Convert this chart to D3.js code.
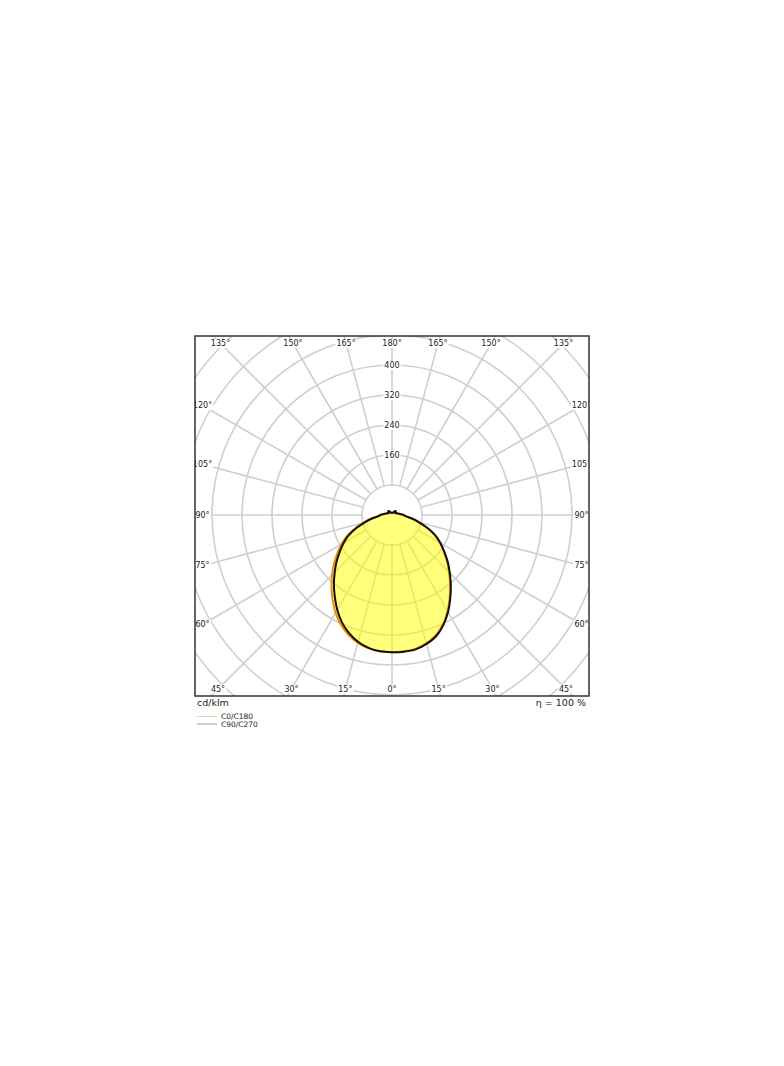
<!DOCTYPE html>
<html>
<head>
<meta charset="utf-8">
<script src="https://cdn.jsdelivr.net/npm/d3@7"></script>
<style>
  html, body { margin: 0; padding: 0; background: #fff; }
  svg { display: block; font-family: "DejaVu Sans", sans-serif; }
</style>
</head>
<body>
<svg id="chart" width="784" height="1066"></svg>
<script>
// ---- data (cd/klm), gamma 0..180 step 5 ----
const gammas = [0,5,10,15,20,25,30,35,40,45,50,55,60,65,70,75,80,85,90,95,100,105,110,115,120,125,130,135,140,145,150,155,160,165,170,175,180];
const tail = [25,19,16,13,11,10,11,12,14,14,12,9,7,6,6,6,6,6];
const c0   = [366,365,362,354,341,321,296,268,241,215,191,168,147,125,98,73,53,36,31].concat(tail);
const c180 = [366,365,361,353,340,323,301,276,251,226,202,178,156,133,105,79,57,38,31].concat(tail);
const c90  = [367,366,364,356,344,324,299,271,244,218,194,170,149,127,100,75,54,37,31].concat(tail);
const c270 = [366,365,360,350,335,316,292,266,241,216,193,170,149,127,100,75,54,37,31].concat(tail);
const ringValues = [80,160,240,320,400,480,560,640,720,800];
const ringLabels = [160,240,320,400];
const angleTicks = [0,15,30,45,60,75,90,105,120,135,150,165,180];
const legendNames = ["C0/C180","C90/C270"];
const efficiencyText = "η = 100 %";
const unitText = "cd/klm";

// ---- layout ----
const svg = d3.select("#chart");
const box = {x:195, y:336, w:394, h:360};
const cx = 392, cy = 515;
const r = d3.scaleLinear().domain([0,400]).range([0,150]);
const gridColor = "#cfcfcf";

svg.append("defs").append("clipPath").attr("id","boxclip")
  .append("rect").attr("x",box.x).attr("y",box.y).attr("width",box.w).attr("height",box.h);

const plot = svg.append("g").attr("clip-path","url(#boxclip)");
const grid = plot.append("g").attr("transform",`translate(${cx},${cy})`);

// rings
grid.selectAll("circle.ring").data(ringValues).enter().append("circle")
  .attr("r", d => r(d)).attr("fill","none").attr("stroke",gridColor).attr("stroke-width",1.6);

// radial lines (angle measured from downward direction)
const spokes = [];
angleTicks.forEach(a => { spokes.push({a, side: 1}); if (a>0 && a<180) spokes.push({a, side:-1}); });
grid.selectAll("line.spoke").data(spokes).enter().append("line")
  .attr("x1", d => d.side*r(80)*Math.sin(d.a*Math.PI/180))
  .attr("y1", d => r(80)*Math.cos(d.a*Math.PI/180))
  .attr("x2", d => d.side*r(1200)*Math.sin(d.a*Math.PI/180))
  .attr("y2", d => r(1200)*Math.cos(d.a*Math.PI/180))
  .attr("stroke",gridColor).attr("stroke-width",1.6);

// curves
const radial = (vals, right) => gammas.map((g,i) => [right ? Math.PI - g*Math.PI/180 : Math.PI + g*Math.PI/180, r(vals[i])]);
function closedCurve(left, rightV){
  const pts = radial(left,false).slice().reverse().concat(radial(rightV,true).slice(1, -1));
  return d3.lineRadial().angle(d=>d[0]).radius(d=>d[1]).curve(d3.curveCatmullRomClosed.alpha(0.5))(pts);
}
const curves = plot.append("g").attr("transform",`translate(${cx},${cy})`);
const pathA = closedCurve(c180, c0);
const pathB = closedCurve(c270, c90);
curves.append("path").attr("d",pathA).attr("fill","#ffff00").attr("fill-opacity",0.3).attr("stroke","none");
curves.append("path").attr("d",pathB).attr("fill","#ffff00").attr("fill-opacity",0.3).attr("stroke","none");
curves.append("path").attr("d",pathA).attr("fill","none").attr("stroke","#f0900a").attr("stroke-width",2);
curves.append("path").attr("d",pathB).attr("fill","none").attr("stroke","#111").attr("stroke-width",2);

// label helper with white background
function label(g, x, y, txt){
  const t = g.append("text").attr("x",x).attr("y",y).attr("text-anchor","middle")
    .attr("dominant-baseline","central").attr("font-size",8).attr("fill","#222").text(txt);
  const bb = t.node().getBBox();
  g.insert("rect", "text").attr("x",bb.x-1).attr("y",bb.y).attr("width",bb.width+2).attr("height",bb.height).attr("fill","#fff");
}

// radial value labels on the 180° line
const vLab = plot.append("g");
ringLabels.forEach(v => {
  const g = vLab.append("g");
  label(g, cx, cy - r(v) + 0.5, String(v));
});

// angle labels at box edges
const insetX = 189.5, insetTop = 171.5, insetBottom = 174;
const aLab = plot.append("g");
spokes.forEach(d => {
  const a = d.a*Math.PI/180;
  const sx = d.side*Math.sin(a), sy = Math.cos(a);
  const iy = sy > 0 ? insetBottom : insetTop;
  const t = Math.min(Math.abs(sx) > 1e-6 ? insetX/Math.abs(sx) : 1e9, Math.abs(sy) > 1e-6 ? iy/Math.abs(sy) : 1e9);
  const g = aLab.append("g");
  label(g, cx + t*sx, cy + t*sy, d.a + "°");
});

// frame
svg.append("rect").attr("x",box.x).attr("y",box.y).attr("width",box.w).attr("height",box.h)
  .attr("fill","none").attr("stroke","#333").attr("stroke-width",1.5);

// bottom texts
svg.append("text").attr("x",197).attr("y",706).attr("font-size",9.5).attr("fill","#222").text(unitText);
svg.append("text").attr("x",586).attr("y",706).attr("text-anchor","end").attr("font-size",9.5).attr("fill","#222").text(efficiencyText);

// legend
const legColors = ["#f5b070","#555"];
legendNames.forEach((n,i) => {
  const y = 716.5 + i*7.5;
  svg.append("line").attr("x1",197).attr("x2",217).attr("y1",y).attr("y2",y)
    .attr("stroke",legColors[i]).attr("stroke-width",0.6);
  svg.append("text").attr("x",221).attr("y",y+2.8).attr("font-size",7.5).attr("fill","#222").text(n);
});
</script>
</body>
</html>
